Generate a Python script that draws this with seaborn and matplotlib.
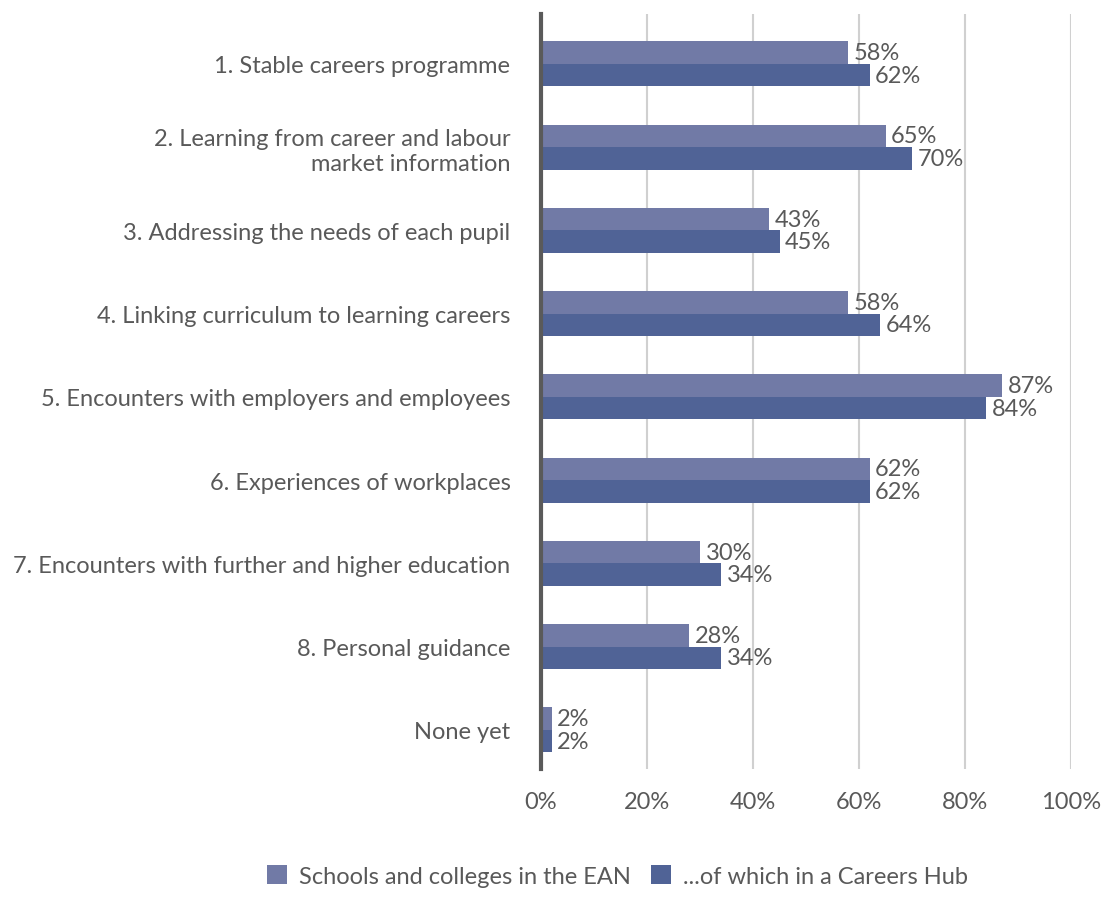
import matplotlib
matplotlib.use("Agg")
import matplotlib.pyplot as plt
import seaborn as sns
import pandas as pd
from matplotlib.patches import Patch

categories = [
    "1. Stable careers programme",
    "2. Learning from career and labour\nmarket information",
    "3. Addressing the needs of each pupil",
    "4. Linking curriculum to learning careers",
    "5. Encounters with employers and employees",
    "6. Experiences of workplaces",
    "7. Encounters with further and higher education",
    "8. Personal guidance",
    "None yet",
]
ean_values = [58, 65, 43, 58, 87, 62, 30, 28, 2]
hub_values = [62, 70, 45, 64, 84, 62, 34, 34, 2]
series_names = ["Schools and colleges in the EAN", "...of which in a Careers Hub"]
x_ticks = [0, 20, 40, 60, 80, 100]

colors = ["#717aa6", "#506396"]
text_color = "#595959"
font_size = 17

sns.set_theme(style="white")
plt.rcParams["font.family"] = ["Lato", "DejaVu Sans"]

df = pd.DataFrame({
    "category": categories * 2,
    "value": ean_values + hub_values,
    "series": [series_names[0]] * len(categories) + [series_names[1]] * len(categories),
})

fig = plt.figure(figsize=(11.04, 9.2), dpi=100)
ax = fig.add_axes([541 / 1104, 1 - 770 / 920, 530 / 1104, 755 / 920])

sns.barplot(
    data=df, x="value", y="category", hue="series", orient="h",
    palette=colors, width=0.54, dodge=True, gap=0, saturation=1,
    linewidth=0, legend=False, ax=ax, errorbar=None,
)

ax.set_xlim(0, 100)
ax.set_ylim(len(categories) - 0.53, -0.6)
ax.set_xticks(x_ticks)
ax.set_xticklabels([f"{t}%" for t in x_ticks], fontsize=font_size, color=text_color)
ax.tick_params(axis="x", length=0, pad=16)
ax.tick_params(axis="y", length=0, pad=22, labelsize=font_size, labelcolor=text_color)
for lbl in ax.get_yticklabels():
    lbl.set_horizontalalignment("right")
    lbl.set_multialignment("right")
ax.set_xlabel("")
ax.set_ylabel("")

ax.grid(axis="x", color="#d0d0d0", linewidth=1.5)
ax.set_axisbelow(True)
for side in ["top", "right", "bottom"]:
    ax.spines[side].set_visible(False)
ax.spines["left"].set_color("#5a5a5a")
ax.spines["left"].set_linewidth(3)
ax.spines["left"].set_zorder(5)

for container in ax.containers:
    ax.bar_label(container, labels=[f"{v:.0f}%" for v in container.datavalues],
                 padding=4, fontsize=font_size, color=text_color)

handles = [Patch(facecolor=c, edgecolor="none") for c in colors]
fig.legend(handles, series_names, loc="center", bbox_to_anchor=(617.5 / 1104, 1 - 877 / 920),
           ncol=2, frameon=False, fontsize=font_size, handlelength=0.85, handleheight=0.85,
           handletextpad=0.5, columnspacing=0.85, labelcolor=text_color)

fig.savefig("out.png", dpi=100)
